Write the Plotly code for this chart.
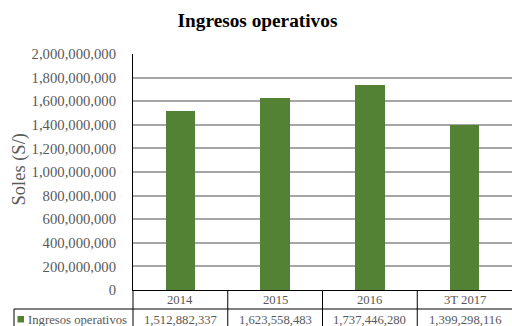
import plotly.graph_objects as go

periodos = ['2014', '2015', '2016', '3T 2017']
ingresos = [1512882337, 1623558483, 1737446280, 1399298116]
serie = 'Ingresos operativos'
verde = '#548235'
gris = '#595959'
fuente = 'Liberation Serif'

# area del grafico en pixeles (para ubicar la tabla de datos)
L, T, W, H = 133, 54, 379, 236


def px(x):
    return (x - L) / W


def py(y):
    return (T + H - y) / H


fig = go.Figure(go.Bar(
    x=periodos, y=ingresos, name=serie,
    marker=dict(color=verde, line=dict(width=0)), width=0.31,
))

lineas = dict(color='#000000', width=1)
shapes = [
    # separador de filas de la tabla
    dict(type='line', xref='paper', yref='paper', x0=px(14), x1=1, y0=py(309), y1=py(309), line=lineas),
    # borde izquierdo de la celda de la leyenda
    dict(type='line', xref='paper', yref='paper', x0=px(14), x1=px(14), y0=py(309), y1=py(330), line=lineas),
    # eje vertical prolongado hasta abajo
    dict(type='line', xref='paper', yref='paper', x0=0, x1=0, y0=0, y1=py(330), line=lineas),
    # cuadro de la leyenda
    dict(type='rect', xref='paper', yref='paper', x0=px(17.5), x1=px(24), y0=py(316), y1=py(322.5),
         fillcolor=verde, line=dict(width=0)),
]
for i in range(1, len(periodos)):
    xb = i / len(periodos)
    shapes.append(dict(type='line', xref='paper', yref='paper', x0=xb, x1=xb, y0=0, y1=py(330), line=lineas))

anots = [
    dict(text='Soles (S/)', xref='paper', yref='paper', x=px(18.5), y=py(170), textangle=-90,
         xanchor='center', yanchor='middle', showarrow=False, font=dict(family=fuente, size=18.5, color=gris)),
    dict(text=serie, xref='paper', yref='paper', x=px(26), y=py(320), xanchor='left', yanchor='middle',
         showarrow=False, font=dict(family=fuente, size=12.7, color=gris)),
]
for i, (p, v) in enumerate(zip(periodos, ingresos)):
    xc = (i + 0.5) / len(periodos)
    anots.append(dict(text=p, xref='paper', yref='paper', x=xc, y=py(300), xanchor='center', yanchor='middle',
                      showarrow=False, font=dict(family=fuente, size=12.7, color=gris)))
    anots.append(dict(text=f'{v:,}', xref='paper', yref='paper', x=xc, y=py(320), xanchor='center',
                      yanchor='middle', showarrow=False, font=dict(family=fuente, size=12.7, color=gris)))

fig.update_layout(
    width=512, height=326,
    margin=dict(l=L, r=512 - L - W, t=T, b=326 - T - H, pad=0, autoexpand=False),
    paper_bgcolor='white', plot_bgcolor='white',
    showlegend=False,
    title=dict(text='<b>Ingresos operativos</b>', xref='container', yref='container',
               x=257.5 / 512, y=1 - 20 / 326, xanchor='center', yanchor='middle',
               font=dict(family=fuente, size=19.3, color='#000000')),
    font=dict(family=fuente, color=gris),
    shapes=shapes,
    annotations=anots,
    bargap=0,
)
fig.update_xaxes(type='category', range=[-0.5, 3.5], showticklabels=False, showgrid=False, showline=True,
                 linecolor='#000000', linewidth=1, ticks='', zeroline=False, automargin=False)
fig.update_yaxes(range=[0, 2e9], dtick=2e8, tickformat=',d', showgrid=True, gridcolor='#a6a6a6', gridwidth=1.5,
                 showline=True, linecolor='#000000', linewidth=1, ticks='', zeroline=False, automargin=False,
                 ticklabelstandoff=13, tickfont=dict(family=fuente, size=14.7, color=gris))

# sin el margen de 8px del body para que la figura llene la ventana
fig.write_html('out.html', config={'displayModeBar': False},
               post_script="document.body.style.margin='0';document.body.style.overflow='hidden';")
